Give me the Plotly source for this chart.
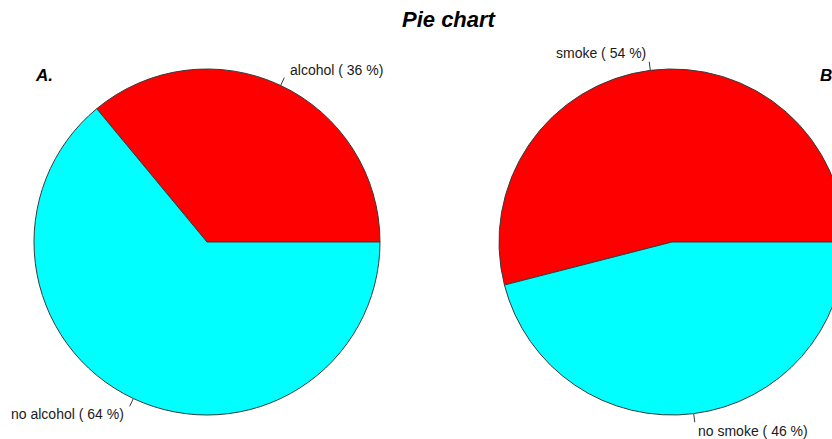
import math
import plotly.graph_objects as go

# ---- data ----
title = "Pie chart"
panel_labels = ["A.", "B."]
labels_a = ["alcohol", "no alcohol"]
values_a = [36, 64]
labels_b = ["smoke", "no smoke"]
values_b = [54, 46]
slice_colors = ["#FF0000", "#00FFFF"]

# ---- layout constants (pixels) ----
W, H = 860, 439
R = 173
centers = [(207, 242), (672, 242)]
FONT = "Liberation Sans, Arial, sans-serif"

fig = go.Figure()
annotations = []
tick_x, tick_y = [], []

for (cx, cy), labs, vals in zip(centers, [labels_a, labels_b], [values_a, values_b]):
    total = sum(vals)
    # R's pie(): first slice starts at 3 o'clock and runs counter-clockwise
    rot = 90 - 360 * vals[0] / total
    fig.add_trace(go.Pie(
        labels=labs, values=vals, sort=False, direction="counterclockwise",
        rotation=rot, textinfo="none", hoverinfo="label+percent",
        marker=dict(colors=slice_colors, line=dict(color="#3a3a3a", width=1)),
        domain=dict(x=[(cx - R) / W, (cx + R) / W],
                    y=[1 - (cy + R) / H, 1 - (cy - R) / H]),
        showlegend=False,
    ))
    cum = 0
    for lab, v in zip(labs, vals):
        ang = 2 * math.pi * (cum + v / 2) / total
        cum += v
        c, s = math.cos(ang), math.sin(ang)
        tick_x += [cx + R * c, cx + 1.05 * R * c, None]
        tick_y += [cy - R * s, cy - 1.05 * R * s, None]
        pct = round(100 * v / total)
        annotations.append(dict(
            x=cx + 1.1 * R * c, y=cy - 1.1 * R * s, xref="x", yref="y",
            text=f"{lab} ( {pct} %)", showarrow=False,
            xanchor="left" if c > 0 else "right", yanchor="middle",
            font=dict(family=FONT, size=14, color="#1a1a1a"),
        ))

fig.add_trace(go.Scatter(x=tick_x, y=tick_y, mode="lines",
                         line=dict(color="#3a3a3a", width=1),
                         hoverinfo="skip", showlegend=False))

annotations.append(dict(x=449, y=19, xref="x", yref="y", text=f"<b><i>{title}</i></b>",
                        showarrow=False, xanchor="center", yanchor="middle",
                        font=dict(family=FONT, size=22, color="black")))
for (px, py), t in zip([(33, 75), (818, 75)], panel_labels):
    annotations.append(dict(x=px, y=py, xref="x", yref="y", text=f"<b><i>{t}</i></b>",
                            showarrow=False, xanchor="left", yanchor="middle",
                            font=dict(family=FONT, size=17, color="black")))

fig.update_layout(
    width=W, height=H, margin=dict(l=0, r=0, t=0, b=0, pad=0),
    paper_bgcolor="white", plot_bgcolor="white",
    xaxis=dict(range=[0, W], visible=False, fixedrange=True),
    yaxis=dict(range=[H, 0], visible=False, fixedrange=True),
    annotations=annotations,
)

fig.write_html("out.html", config={"displayModeBar": False}, post_script=(
    "document.body.style.margin='0';"
    "document.body.style.overflow='hidden';"
    "document.documentElement.style.overflow='hidden';"))
